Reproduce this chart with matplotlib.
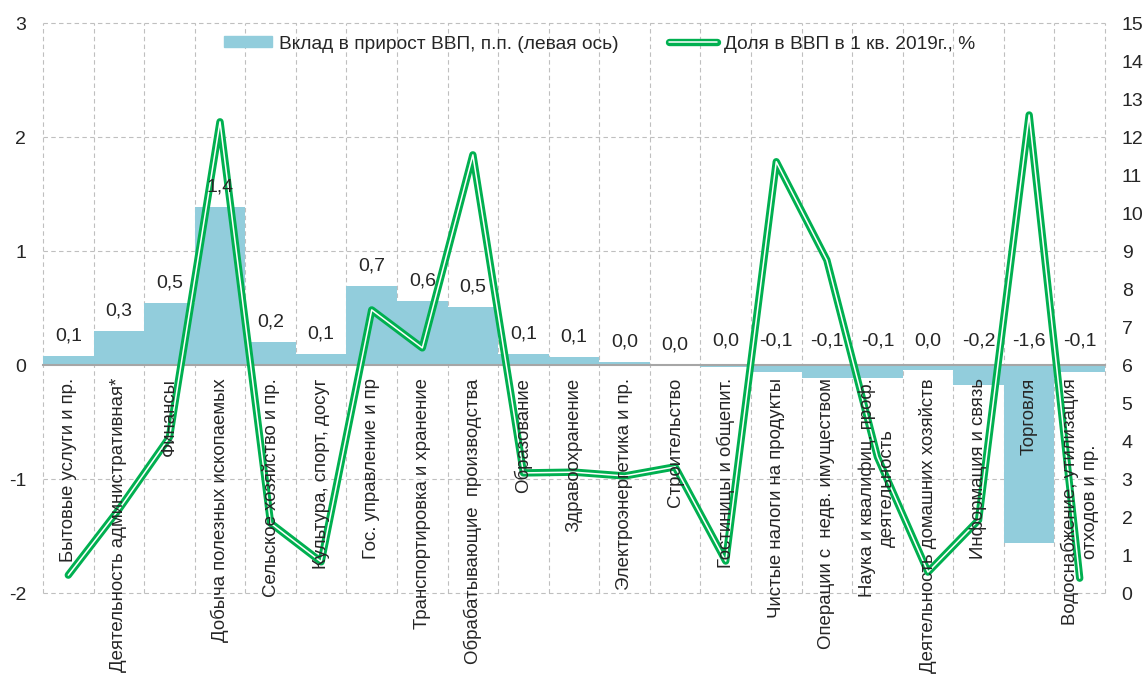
import numpy as np
import matplotlib
matplotlib.use('Agg')
import matplotlib.pyplot as plt
from matplotlib.lines import Line2D
from matplotlib.patches import Patch
from matplotlib.legend_handler import HandlerTuple

plt.rcParams['font.family'] = ['Liberation Sans', 'DejaVu Sans']

categories = [
    "Бытовые услуги и пр.",
    "Деятельность административная*",
    "Финансы",
    "Добыча полезных ископаемых",
    "Сельское хозяйство и пр.",
    "Культура, спорт, досуг",
    "Гос. управление и пр",
    "Транспортировка и хранение",
    "Обрабатывающие  производства",
    "Образование",
    "Здравоохранение",
    "Электроэнергетика и пр.",
    "Строительство",
    "Гостиницы и общепит.",
    "Чистые налоги на продукты",
    "Операции с  недв. имуществом",
    "Наука и квалифиц. проф.\nдеятельность",
    "Деятельность домашних хозяйств",
    "Информация и связь",
    "Торговля",
    "Водоснабжение, утилизация\nотходов и пр.",
]
contrib = [0.08, 0.30, 0.54, 1.385, 0.20, 0.096, 0.69, 0.56, 0.51, 0.096, 0.07,
           0.025, 0.003, -0.015, -0.06, -0.11, -0.11, -0.04, -0.175, -1.56, -0.06]
share = [0.47, 2.2, 4.1, 12.4, 1.84, 0.82, 7.45, 6.45, 11.53, 3.16, 3.18,
         3.08, 3.32, 0.84, 11.35, 8.76, 3.58, 0.55, 1.92, 12.58, 0.39]
left_ticks = [-2, -1, 0, 1, 2, 3]
right_ticks = list(range(0, 16))
legend_labels = ["Вклад в прирост ВВП, п.п. (левая ось)", "Доля в ВВП в 1 кв. 2019г., %"]

BAR = '#92CDDC'
GREEN = '#00B050'
GRID = '#BFBFBF'
TXT = '#262626'
FS = 14
FS_CAT = 13.4
DASH = (0, (4, 3))

fig = plt.figure(figsize=(11.47, 6.86), dpi=100)
ax = fig.add_axes([43 / 1147, 1 - 593 / 686, (1105 - 43) / 1147, (593 - 23) / 686])
x = np.arange(len(categories))
n = len(categories)
ax.set_xlim(-0.5, n - 0.5)
ax.set_ylim(-2, 3)

ax2 = ax.twinx()
ax2.set_ylim(0, 15)

# grid lines (manual, below everything)
for b in np.arange(-0.5, n, 1):
    ax.axvline(b, ls=DASH, color=GRID, lw=0.8, zorder=0.5, clip_on=False)
for t in left_ticks:
    if t != 0:
        ax.axhline(t, ls=DASH, color=GRID, lw=0.8, zorder=0.5, clip_on=False)

ax.bar(x, contrib, width=1.0, color=BAR, zorder=2)

ax.set_yticks(left_ticks)
ax.set_yticklabels([str(t) for t in left_ticks])
for s in ax.spines.values():
    s.set_visible(False)
ax.spines['bottom'].set_visible(True)
ax.spines['bottom'].set_position(('data', 0))
ax.spines['bottom'].set_color('#A6A6A6')
ax.spines['bottom'].set_linewidth(1.5)
ax.spines['bottom'].set_zorder(2.5)
ax.set_xticks(x)
ax.set_xticklabels(categories, rotation=90, fontsize=FS_CAT, color=TXT)
for lab in ax.get_xticklabels():
    lab.set_multialignment('center')
ax.tick_params(axis='x', which='both', length=0, pad=9.5)
ax.tick_params(axis='y', length=0, pad=12, labelsize=FS, labelcolor=TXT)
ax.grid(False)
ax.xaxis.set_zorder(5)
ax.yaxis.set_zorder(5)

ax2.set_yticks(right_ticks)
ax2.set_yticklabels([str(t) for t in right_ticks])
for s in ax2.spines.values():
    s.set_visible(False)
ax2.tick_params(axis='y', length=0, pad=12, labelsize=FS, labelcolor=TXT)
ax2.grid(False)

# share line drawn in ax (so tick labels stay on top) using right-axis scale
ax.plot(x, share, color=GREEN, lw=5.3, solid_joinstyle='round', solid_capstyle='round',
        transform=ax2.transData, zorder=3)
ax.plot(x, share, color='white', lw=1.1, solid_joinstyle='round', solid_capstyle='round',
        transform=ax2.transData, zorder=3.1)

for i, v in enumerate(contrib):
    s = f"{v:.1f}"
    if s == "-0.0":
        s = "0.0"
    s = s.replace('.', ',')
    off = 14.5 if v > 0 else 17.5
    ax.annotate(s, xy=(i, max(v, 0)), xytext=(0, off),
                textcoords='offset points', ha='center', va='center',
                fontsize=FS, color=TXT, zorder=6)

handles = [Patch(color=BAR),
           (Line2D([], [], color=GREEN, lw=5.3, solid_capstyle='round'),
            Line2D([], [], color='white', lw=1.1, solid_capstyle='round'))]
leg = ax.legend(handles, legend_labels, loc='center', bbox_to_anchor=(0.524, 0.963), ncol=2,
                frameon=False, fontsize=13.8, handlelength=2.5, handleheight=0.5,
                handletextpad=0.4, columnspacing=2.6,
                handler_map={tuple: HandlerTuple(ndivide=1)}, labelcolor=TXT)
leg.set_zorder(7)

fig.savefig('out.png', dpi=100)
